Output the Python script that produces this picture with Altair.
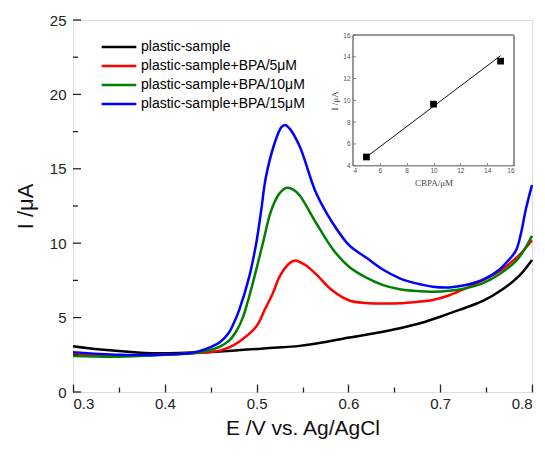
import altair as alt
import pandas as pd

# ---------------- main voltammograms ----------------
series_names = [
    "plastic-sample",
    "plastic-sample+BPA/5μM",
    "plastic-sample+BPA/10μM",
    "plastic-sample+BPA/15μM",
]
series_colors = ["#000000", "#ff0000", "#008000", "#0000ff"]

E_black = [0.30, 0.33, 0.37, 0.40, 0.43, 0.46, 0.49, 0.514, 0.547, 0.575, 0.601, 0.63,
           0.656, 0.68, 0.70, 0.72, 0.746, 0.768, 0.786, 0.80]
I_black = [3.08, 2.85, 2.66, 2.60, 2.65, 2.72, 2.85, 2.95, 3.10, 3.36, 3.66, 3.96,
           4.28, 4.65, 5.06, 5.50, 6.10, 6.90, 7.80, 8.87]

E_red = [0.30, 0.35, 0.40, 0.43, 0.445, 0.46, 0.47, 0.4814, 0.4996, 0.5086, 0.5177, 0.525,
         0.5358, 0.5423, 0.548, 0.554, 0.565, 0.583, 0.601, 0.619, 0.637, 0.656, 0.674,
         0.692, 0.71, 0.728, 0.746, 0.764, 0.786, 0.80]
I_red = [2.55, 2.45, 2.52, 2.60, 2.65, 2.78, 3.00, 3.40, 4.40, 5.50, 6.63, 7.75,
         8.65, 8.83, 8.70, 8.50, 7.90, 6.80, 6.15, 5.98, 5.95, 5.96, 6.05,
         6.18, 6.50, 6.97, 7.50, 8.10, 9.20, 10.2]

E_green = [0.30, 0.35, 0.40, 0.43, 0.445, 0.46, 0.47, 0.478, 0.485, 0.4905, 0.4977, 0.5068,
           0.5159, 0.525, 0.533, 0.54, 0.547, 0.565, 0.583, 0.601, 0.619, 0.637, 0.656,
           0.674, 0.692, 0.71, 0.728, 0.746, 0.764, 0.7825, 0.79, 0.80]
I_green = [2.42, 2.37, 2.50, 2.60, 2.75, 3.05, 3.45, 4.10, 5.00, 6.10, 7.75, 10.0,
           12.2, 13.35, 13.73, 13.6, 13.2, 11.34, 9.60, 8.40, 7.70, 7.20, 6.90,
           6.78, 6.74, 6.80, 6.97, 7.30, 7.90, 8.80, 9.40, 10.5]

E_blue = [0.30, 0.35, 0.40, 0.43, 0.445, 0.46, 0.47, 0.475, 0.481, 0.492, 0.4996, 0.505,
          0.510, 0.5195, 0.527, 0.531, 0.536, 0.547, 0.565, 0.583, 0.601, 0.62, 0.637,
          0.656, 0.674, 0.692, 0.71, 0.728, 0.746, 0.764, 0.775, 0.7825, 0.788, 0.793, 0.80]
I_blue = [2.68, 2.50, 2.52, 2.64, 2.90, 3.35, 4.00, 4.60, 5.50, 7.75, 10.0, 12.2,
          14.4, 16.7, 17.8, 17.95, 17.7, 16.5, 13.35, 11.34, 9.85, 9.00, 8.25,
          7.64, 7.30, 7.08, 7.03, 7.19, 7.53, 8.20, 8.90, 9.50, 10.66, 12.2, 13.9]

x_major = [0.3, 0.4, 0.5, 0.6, 0.7, 0.8]
x_minor = [0.35, 0.45, 0.55, 0.65, 0.75]
y_major = [0, 5, 10, 15, 20, 25]
y_minor = [2.5, 7.5, 12.5, 17.5, 22.5]

# ---------------- inset calibration ----------------
c_bpa = [5, 10, 15]
i_peak = [4.8, 9.65, 13.6]
i_err = [0.12, 0.12, 0.22]
fit_c = [5, 15]
fit_i = [4.8, 14.1]
inset_ticks = [4, 6, 8, 10, 12, 14, 16]

rows = []
for name, E, I in [(series_names[0], E_black, I_black), (series_names[1], E_red, I_red),
                   (series_names[2], E_green, I_green), (series_names[3], E_blue, I_blue)]:
    for e, i in zip(E, I):
        rows.append({"series": name, "E": e, "I": i})
df = pd.DataFrame(rows)

pts = pd.DataFrame({"c": c_bpa, "i": i_peak, "lo": [a - b for a, b in zip(i_peak, i_err)],
                    "hi": [a + b for a, b in zip(i_peak, i_err)]})
fit = pd.DataFrame({"c": fit_c, "i": fit_i})
ytick_df = pd.DataFrame({"v": y_major + y_minor,
                         "kind": ["major"] * len(y_major) + ["minor"] * len(y_minor)})
itick_df = pd.DataFrame({"v": inset_ticks})

FONT = "Liberation Sans"
W, H = 459, 372
MAJ, MIN = 8, 5
TC = "#222"

xs = alt.Scale(domain=[0.3, 0.8], nice=False, zero=False)
ys = alt.Scale(domain=[0, 25], nice=False)

main = alt.Chart(df).mark_line(strokeWidth=2.5, interpolate="catmull-rom").encode(
    x=alt.X("E:Q", scale=xs,
            axis=alt.Axis(orient="bottom", values=x_major, domain=False, grid=False, ticks=False,
                          format=".1f", labelFontSize=15, labelColor="#222", labelPadding=4,
                          labelFont=FONT, title="E /V vs. Ag/AgCl", titleFontSize=21,
                          titleFont=FONT, titleFontWeight="normal", titleColor="#111",
                          titlePadding=6)),
    y=alt.Y("I:Q", scale=ys,
            axis=alt.Axis(orient="left", values=y_major, domain=False, grid=False, ticks=False,
                          labelFontSize=15, labelColor="#222", labelPadding=7, labelFont=FONT,
                          title="I /μA", titleFontSize=22, titleFont=FONT,
                          titleFontWeight="normal", titleColor="#111", titlePadding=12)),
    color=alt.Color("series:N",
                    scale=alt.Scale(domain=series_names, range=series_colors),
                    sort=series_names,
                    legend=alt.Legend(title=None, orient="none", legendX=36, legendY=17,
                                      symbolType="M-2,0H2", symbolStrokeWidth=2.5,
                                      symbolFillColor="transparent",
                                      symbolSize=300, labelFontSize=14, labelFont=FONT,
                                      labelColor="#000", rowPadding=2, padding=0,
                                      labelOffset=12, labelLimit=400)),
)


def xtick_layer(xv, size):
    # label-less top axis moved onto the bottom frame so its ticks point inward
    return alt.Chart(df).mark_point(opacity=0).encode(
        x=alt.X("E:Q", scale=xs,
                axis=alt.Axis(orient="top", values=xv, domain=False, grid=False, labels=False,
                              offset=-H, tickSize=size, tickWidth=1.3, tickColor=TC, title=None)),
        y=alt.Y("I:Q", scale=ys, axis=None),
    )


# inward y ticks on the left frame
ytick_major = alt.Chart(ytick_df).transform_filter("datum.kind == 'major'").mark_rule(
    color=TC, strokeWidth=1.3).encode(
    y=alt.Y("v:Q", scale=ys, axis=None), x=alt.value(0), x2=alt.value(MAJ))
ytick_minor = alt.Chart(ytick_df).transform_filter("datum.kind == 'minor'").mark_rule(
    color=TC, strokeWidth=1.3).encode(
    y=alt.Y("v:Q", scale=ys, axis=None), x=alt.value(0), x2=alt.value(MIN))

main_layer = alt.layer(main, xtick_layer(x_major, MAJ), xtick_layer(x_minor, MIN),
                       ytick_major, ytick_minor).resolve_axis(x="independent", y="independent")

# inset geometry (pixel ranges inside the main plot area)
ix = alt.Scale(domain=[4, 16], range=[280, 441], nice=False, zero=False)
iy = alt.Scale(domain=[4, 16], range=[145.7, 15], nice=False, zero=False)

ix_axis = alt.Axis(orient="bottom", values=inset_ticks, domain=False, grid=False,
                   offset=-(H - 145.7) - 3, tickSize=3, tickColor="#666", tickWidth=0.8,
                   labelFontSize=6.5, labelColor="#555", labelPadding=2, labelFont=FONT,
                   title="CBPA/μM", titleFontSize=9, titleFont="Liberation Serif",
                   titleFontWeight="normal", titleColor="#444", titlePadding=4)
iy_axis = alt.Axis(orient="left", values=inset_ticks, domain=False, grid=False,
                   offset=-280, ticks=False,
                   labelFontSize=6.5, labelColor="#555", labelPadding=3, labelFont=FONT,
                   title="I /μA", titleFontSize=9, titleFont="Liberation Serif",
                   titleFontWeight="normal", titleColor="#444", titlePadding=3)

frame = alt.Chart(pts).mark_rect(fillOpacity=0, stroke="#8a8a8a", strokeWidth=1).encode(
    x=alt.XDatum(4, scale=ix, axis=ix_axis), x2=alt.X2Datum(16),
    y=alt.YDatum(4, scale=iy, axis=iy_axis), y2=alt.Y2Datum(16),
)
iytick = alt.Chart(itick_df).mark_rule(color="#666", strokeWidth=0.8).encode(
    y=alt.Y("v:Q", scale=iy, axis=iy_axis),
    x=alt.XDatum(4, scale=ix, axis=ix_axis), x2=alt.X2Datum(4.22))
fit_line = alt.Chart(fit).mark_line(color="#111", strokeWidth=1).encode(
    x=alt.X("c:Q", scale=ix, axis=ix_axis), y=alt.Y("i:Q", scale=iy, axis=iy_axis))
err = alt.Chart(pts).mark_rule(color="#222", strokeWidth=1).encode(
    x=alt.X("c:Q", scale=ix, axis=ix_axis), y=alt.Y("lo:Q", scale=iy, axis=iy_axis), y2="hi:Q")
sq = alt.Chart(pts).mark_square(size=45, color="#000", opacity=1).encode(
    x=alt.X("c:Q", scale=ix, axis=ix_axis), y=alt.Y("i:Q", scale=iy, axis=iy_axis))

inset = alt.layer(frame, iytick, fit_line, err, sq)

chart = alt.layer(main_layer, inset).resolve_scale(x="independent", y="independent").properties(
    width=W, height=H,
    autosize=alt.AutoSizeParams(type="none"),
    padding={"left": 65, "top": 12, "right": 5, "bottom": 50},
).configure_view(stroke="#222", strokeWidth=1.5).configure(background="white")

chart.save("out.html", embed_options={"renderer": "svg", "actions": False})
